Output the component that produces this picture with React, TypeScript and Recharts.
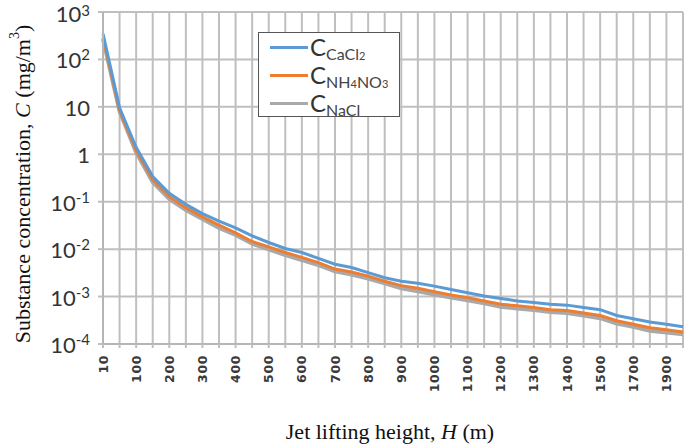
import { LineChart, Line, XAxis, YAxis, CartesianGrid, Label } from 'recharts';

// jet lifting height, m (category axis, as in the source spreadsheet)
const heights = [
  10, 50, 100, 150, 200, 250, 300, 350, 400, 450, 500, 550, 600, 650, 700, 750, 800, 850,
  900, 950, 1000, 1050, 1100, 1150, 1200, 1250, 1300, 1350, 1400, 1450, 1500, 1600, 1700,
  1800, 1900, 2000,
];

// concentrations, mg/m3
const cCaCl2 = [
  350, 9.5, 1.4, 0.34, 0.15, 0.088, 0.056, 0.039, 0.028, 0.019, 0.0138, 0.0103, 0.0085,
  0.0064, 0.0048, 0.0041, 0.0032, 0.0025, 0.0021, 0.0019, 0.00166, 0.00141, 0.0012, 0.00103,
  0.00091, 0.00081, 0.00075, 0.00069, 0.00066, 0.00059, 0.00053, 0.0004, 0.00034, 0.00029,
  0.00026, 0.00023,
];
const cNH4NO3 = [
  290, 8.5, 1.2, 0.29, 0.128, 0.075, 0.048, 0.032, 0.022, 0.0145, 0.0112, 0.0085, 0.0067,
  0.0052, 0.0038, 0.0033, 0.0027, 0.0021, 0.0017, 0.0015, 0.00126, 0.00108, 0.00095, 0.00081,
  0.00069, 0.00064, 0.00059, 0.00053, 0.00051, 0.00045, 0.0004, 0.00031, 0.00026, 0.00022,
  0.0002, 0.00018,
];
const cNaCl = [
  270, 8, 1.1, 0.26, 0.115, 0.067, 0.043, 0.028, 0.02, 0.013, 0.0099, 0.0075, 0.0059,
  0.0046, 0.0034, 0.0029, 0.0024, 0.0019, 0.0015, 0.0013, 0.0011, 0.00095, 0.00084, 0.00072,
  0.00061, 0.00056, 0.00052, 0.00047, 0.00045, 0.0004, 0.00035, 0.00027, 0.00023, 0.00019,
  0.000175, 0.00016,
];

const yTicks = [1e-4, 1e-3, 1e-2, 1e-1, 1, 10, 100, 1000];

const data = heights.map((h, i) => ({ h, cacl2: cCaCl2[i], nh4no3: cNH4NO3[i], nacl: cNaCl[i] }));

const BLUE = '#5b9bd5';
const ORANGE = '#ed7d31';
const GRAY = '#a9a9a9';
const TICK_FONT = 'Lato, "Open Sans", sans-serif';

function YTick({ x, y, payload }: any) {
  const exp = Math.round(Math.log10(payload.value));
  const plain = exp === 0 || exp === 1;
  // top label sits right at the edge of the picture, keep its exponent a bit lower
  const top = exp === 3;
  return (
    <text x={x - 6} y={y} dy={top ? 10 : 9} textAnchor="end" fill="#333" fontFamily={TICK_FONT} fontSize={22}>
      {plain ? String(10 ** exp) : '10'}
      {!plain && (
        <tspan fontSize={15} dy={top ? -6 : -8}>
          {exp < 0 ? `-${-exp}` : exp}
        </tspan>
      )}
    </text>
  );
}

// label every second category, like the source chart
function XTick({ x, y, payload, index }: any) {
  if (index % 2 === 1) return null;
  return (
    <text
      x={x}
      y={y + 5}
      transform={`rotate(-90 ${x} ${y + 5})`}
      textAnchor="end"
      dominantBaseline="central"
      fill="#3a3a3a"
      fontFamily='"DejaVu Sans", sans-serif'
      fontWeight="bold"
      fontSize={12.5}
      letterSpacing={0.6}
    >
      {payload.value}
    </text>
  );
}

function YTitle() {
  return (
    <text
      x={22}
      y={184}
      transform="rotate(-90 22 184)"
      textAnchor="middle"
      dominantBaseline="central"
      fontFamily='"Liberation Serif", serif'
      fontSize={22}
      fill="#111"
    >
      Substance concentration, <tspan fontStyle="italic">C</tspan> (mg/m
      <tspan fontSize={14} dy={-8}>3</tspan>
      <tspan dy={8}>)</tspan>
    </text>
  );
}

function XTitle() {
  return (
    <text
      x={390}
      y={431}
      textAnchor="middle"
      dominantBaseline="central"
      fontFamily='"Liberation Serif", serif'
      fontSize={22}
      fill="#111"
    >
      Jet lifting height, <tspan fontStyle="italic">H</tspan> (m)
    </text>
  );
}

const legendRows = [
  { color: BLUE, sub: <>CaCl<span style={{ fontSize: 11 }}>2</span></> },
  { color: ORANGE, sub: <>NH<span style={{ fontSize: 11 }}>4</span>NO<span style={{ fontSize: 11 }}>3</span></> },
  { color: GRAY, sub: <>NaCl</> },
];

function LegendBox() {
  return (
    <div
      style={{
        position: 'absolute',
        left: 258,
        top: 32,
        width: 142,
        height: 85,
        background: '#fff',
        border: '1.5px solid #555',
        boxSizing: 'border-box',
      }}
    >
      {legendRows.map((r, i) => (
        <div key={i} style={{ display: 'flex', alignItems: 'center', height: 28 }}>
          <div style={{ width: 38, height: 3, background: r.color, marginLeft: 11, marginRight: 2 }} />
          <span style={{ fontFamily: TICK_FONT, fontSize: 24, color: '#333', lineHeight: '24px' }}>C</span>
          <span
            style={{
              fontFamily: TICK_FONT,
              fontSize: 16,
              color: '#444',
              position: 'relative',
              top: 6,
            }}
          >
            {r.sub}
          </span>
        </div>
      ))}
    </div>
  );
}

export default function App() {
  return (
    <div style={{ position: 'absolute', left: 0, top: 0, width: 685, height: 445, background: '#fff' }}>
      <LineChart width={685} height={445} data={data} margin={{ top: 12, right: 2, left: 0, bottom: 0 }}>
        <CartesianGrid stroke="#bfbfbf" strokeWidth={2} />
        <XAxis
          dataKey="h"
          type="category"
          interval={0}
          height={101}
          tick={<XTick />}
          tickLine={{ stroke: '#bfbfbf', strokeWidth: 2 }}
          tickSize={4}
          axisLine={{ stroke: '#b5b5b5', strokeWidth: 2 }}
        >
          <Label content={<XTitle />} />
        </XAxis>
        <YAxis
          scale="log"
          domain={[1e-4, 1000]}
          ticks={yTicks}
          allowDataOverflow
          width={103}
          tick={<YTick />}
          tickLine={{ stroke: '#bfbfbf', strokeWidth: 2 }}
          tickSize={5}
          axisLine={{ stroke: '#b5b5b5', strokeWidth: 2 }}
        >
          <Label content={<YTitle />} />
        </YAxis>
        <Line type="linear" dataKey="nacl" stroke={GRAY} strokeWidth={4} dot={false} isAnimationActive={false} />
        <Line type="linear" dataKey="nh4no3" stroke={ORANGE} strokeWidth={3} dot={false} isAnimationActive={false} />
        <Line type="linear" dataKey="cacl2" stroke={BLUE} strokeWidth={3} dot={false} isAnimationActive={false} />
      </LineChart>
      <LegendBox />
    </div>
  );
}
